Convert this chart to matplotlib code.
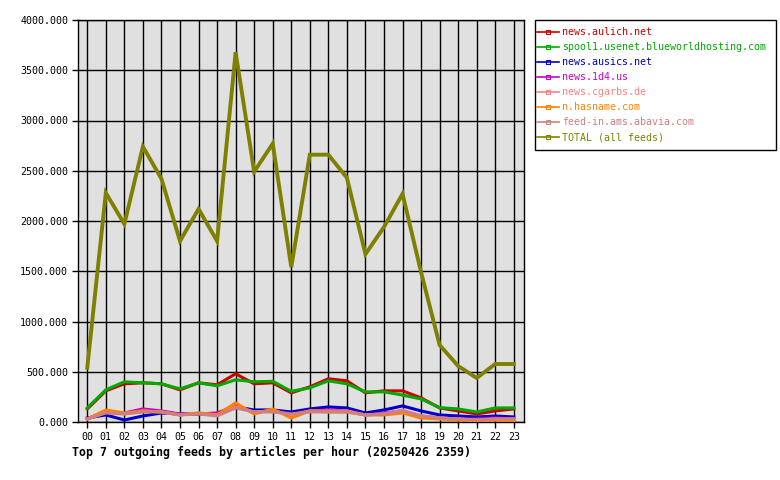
import matplotlib
matplotlib.use('Agg')
import matplotlib.pyplot as plt
from matplotlib.lines import Line2D
from matplotlib.patches import Rectangle
import numpy as np

hours = ['%02d' % h for h in range(24)]

feeds = [
    'news.aulich.net',
    'spool1.usenet.blueworldhosting.com',
    'news.ausics.net',
    'news.1d4.us',
    'news.cgarbs.de',
    'n.hasname.com',
    'feed-in.ams.abavia.com',
    'TOTAL (all feeds)',
]
colors = ['#cc0000', '#00aa00', '#0000cc', '#cc00cc', '#ff8080', '#ff8000', '#cc8080', '#808000']

aulich = [130, 310, 380, 390, 380, 320, 390, 370, 480, 380, 390, 290, 350, 430, 410, 290, 310, 310, 240, 140, 110, 80, 110, 130]
blueworld = [140, 320, 400, 390, 380, 330, 390, 360, 420, 400, 405, 305, 340, 410, 380, 300, 300, 268, 229, 143, 130, 100, 140, 140]
ausics = [40, 70, 20, 60, 90, 80, 80, 80, 150, 120, 120, 100, 130, 150, 140, 90, 120, 160, 110, 70, 60, 50, 60, 50]
d4 = [30, 100, 90, 130, 110, 80, 80, 90, 160, 100, 110, 80, 110, 120, 110, 70, 90, 110, 60, 40, 30, 30, 40, 30]
cgarbs = [30, 100, 80, 110, 100, 70, 90, 70, 150, 100, 110, 70, 110, 110, 110, 70, 80, 120, 60, 40, 30, 20, 30, 30]
hasname = [30, 120, 90, 110, 100, 70, 90, 70, 190, 80, 130, 40, 110, 100, 100, 70, 70, 90, 40, 30, 20, 10, 20, 10]
abavia = [30, 90, 80, 100, 100, 70, 80, 60, 140, 100, 100, 80, 100, 100, 100, 70, 80, 110, 60, 40, 30, 20, 30, 30]
total = [540, 2280, 1970, 2740, 2420, 1800, 2120, 1800, 3680, 2490, 2770, 1540, 2660, 2660, 2430, 1670, 1940, 2270, 1490, 766, 557, 438, 577, 577]

series = [aulich, blueworld, ausics, d4, cgarbs, hasname, abavia, total]

mono = 'DejaVu Sans Mono'

fig = plt.figure(figsize=(7.8, 4.8), dpi=100)
ax = fig.add_axes([78 / 780, 1 - 422 / 480, (524 - 78) / 780, (422 - 20) / 480])
ax.set_facecolor('#e0e0e0')

x = np.arange(24)
for vals, col in zip(series, colors):
    lw = 2.8 if col == '#808000' else 2.2
    ax.plot(x, vals, color=col, linewidth=lw, solid_joinstyle='miter', zorder=3)

ax.set_xlim(-0.5, 23.55)
ax.set_ylim(0, 4000)
ax.set_xticks(x)
ax.set_xticklabels(hours, fontfamily=mono, fontsize=7.2)
ax.set_yticks(np.arange(0, 4001, 500))
ax.set_yticklabels(['%.3f' % v for v in np.arange(0, 4001, 500)], fontfamily=mono, fontsize=7.2)
ax.grid(True, color='black', linewidth=1, zorder=1)
ax.set_axisbelow(True)
ax.tick_params(length=4, width=1, color='black', pad=3)
for s in ax.spines.values():
    s.set_color('black')
    s.set_linewidth(1)

fig.text(72 / 780, 1 - 452 / 480, 'Top 7 outgoing feeds by articles per hour (20250426 2359)',
         fontfamily=mono, fontsize=8.4, fontweight='bold', va='center', ha='left')

# legend box drawn by hand, legend itself without frame
fig.patches.append(Rectangle((535 / 780, 1 - 150 / 480), 241 / 780, 130 / 480,
                             transform=fig.transFigure, fill=False,
                             edgecolor='black', linewidth=1))
handles = [Line2D([0], [0], color=c, linewidth=1.2, marker='s', markersize=3,
                  markerfacecolor='none', markeredgewidth=0.8) for c in colors]
leg = fig.legend(handles, feeds, loc='upper left', bbox_to_anchor=(537 / 780, 1 - 27 / 480),
                 prop={'family': mono, 'size': 7.2}, frameon=False,
                 handlelength=2.2, handletextpad=0.3, labelspacing=0.5, borderpad=0,
                 borderaxespad=0)
for t, c in zip(leg.get_texts(), colors):
    t.set_color(c)

fig.savefig('out.png', dpi=100)
